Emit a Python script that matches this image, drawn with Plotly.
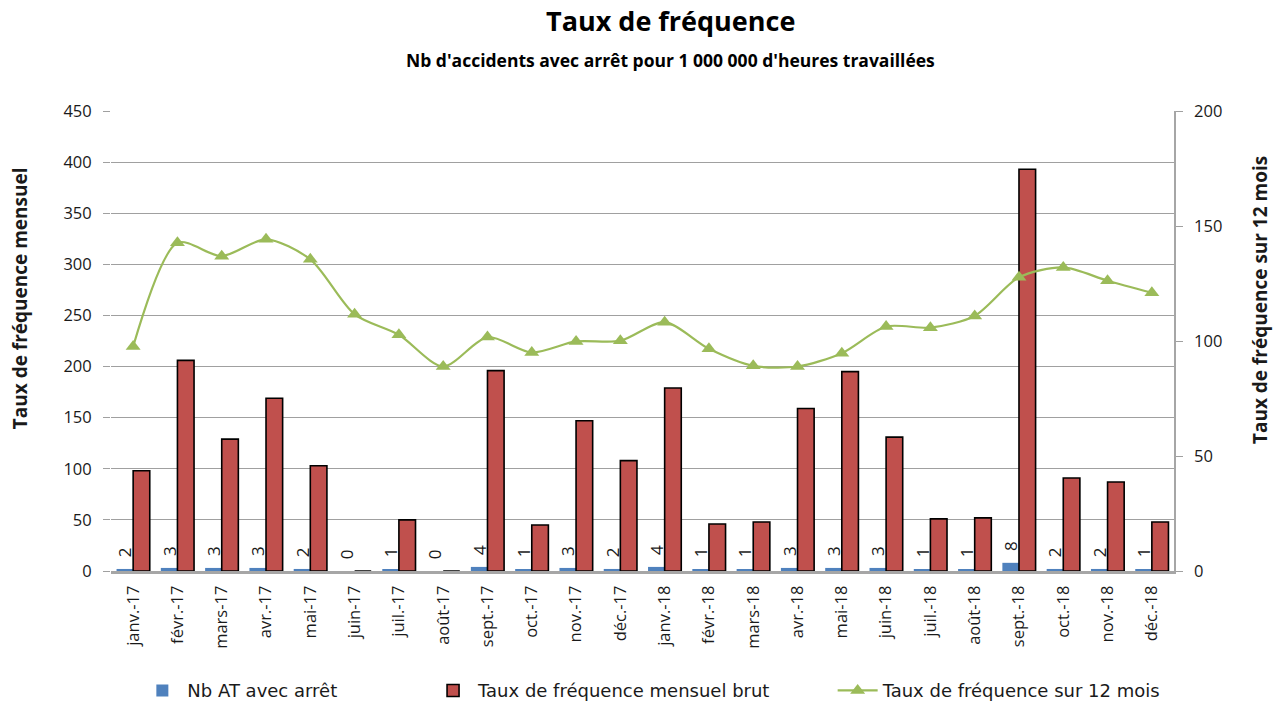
import plotly.graph_objects as go

months = ["janv.-17", "févr.-17", "mars-17", "avr.-17", "mai-17", "juin-17", "juil.-17",
          "août-17", "sept.-17", "oct.-17", "nov.-17", "déc.-17",
          "janv.-18", "févr.-18", "mars-18", "avr.-18", "mai-18", "juin-18", "juil.-18",
          "août-18", "sept.-18", "oct.-18", "nov.-18", "déc.-18"]

nb_at = [2, 3, 3, 3, 2, 0, 1, 0, 4, 1, 3, 2,
         4, 1, 1, 3, 3, 3, 1, 1, 8, 2, 2, 1]

taux_mensuel = [98, 206, 129, 169, 103, 0, 50, 0, 196, 45, 147, 108,
                179, 46, 48, 159, 195, 131, 51, 52, 393, 91, 87, 48]

taux_12_mois = [97.6, 142.7, 136.9, 144.2, 135.5, 111.6, 102.7, 88.9, 101.7, 95.0, 99.8, 100.1,
                108.2, 96.6, 89.2, 88.9, 94.7, 106.3, 105.8, 110.9, 127.7, 132.0, 126.2, 121.0]

FONT = "Open Sans"
WIDE = "DejaVu Sans"
TXT = "#1a1a1a"
GRID = "#a0a0a0"
NBSP = "\u00a0"

fig = go.Figure()

# monthly count of lost-time accidents, labelled above each bar
fig.add_trace(go.Bar(
    x=months, y=nb_at, name="Nb AT avec arrêt" + NBSP * 15,
    marker=dict(color="#4F81BD", line=dict(width=0)),
    text=[NBSP * 2 + str(v) for v in nb_at], textposition="outside", textangle=-90,
    constraintext="none", cliponaxis=False,
    textfont=dict(family=FONT, size=17, color=TXT),
))

fig.add_trace(go.Bar(
    x=months, y=taux_mensuel, name="Taux de fréquence mensuel brut" + NBSP * 10,
    marker=dict(color="#C0504D", line=dict(color="#000000", width=1.6)),
))

# rolling 12-month rate on the secondary axis
fig.add_trace(go.Scatter(
    x=months, y=taux_12_mois, name="Taux de fréquence sur 12 mois",
    yaxis="y2", mode="lines+markers",
    line=dict(color="#9BBB59", width=2.2, shape="spline", smoothing=0.8),
    marker=dict(symbol="triangle-up", size=13, color="#9BBB59"),
))

fig.update_layout(
    width=1278, height=707,
    margin=dict(l=111, r=104, t=111, b=136, autoexpand=False),
    paper_bgcolor="white", plot_bgcolor="white",
    barmode="group", bargap=0.25, bargroupgap=0,
    font=dict(family=FONT, size=16, color=TXT),
    showlegend=True,
    legend=dict(orientation="h", x=0.5088, xanchor="center", yref="container",
                y=0.023, yanchor="middle",
                font=dict(family=WIDE, size=18, color=TXT), itemwidth=40,
                traceorder="normal"),
    xaxis=dict(
        type="category", range=[-0.5, len(months) - 0.5], tickangle=-90, showgrid=False,
        showline=True, linecolor="#a6a6a6", linewidth=3, automargin=False,
        ticks="", ticklabelstandoff=5, tickfont=dict(family=FONT, size=16.5, color=TXT),
    ),
    yaxis=dict(
        range=[0, 450], dtick=50, showgrid=True, gridcolor=GRID, gridwidth=1.3,
        zeroline=False, showline=False, ticks="outside", ticklen=7, tickcolor=GRID,
        ticklabelstandoff=8, automargin=False,
        tickfont=dict(family=FONT, size=16.5, color=TXT),
    ),
    yaxis2=dict(
        range=[0, 200], dtick=50, overlaying="y", side="right", showgrid=False,
        zeroline=False, showline=True, linecolor="#a6a6a6", linewidth=1.5,
        ticks="outside", ticklen=7, tickcolor=GRID, ticklabelstandoff=8, automargin=False,
        tickfont=dict(family=FONT, size=16.5, color=TXT),
    ),
    annotations=[
        dict(text="<b>Taux de fréquence</b>", xref="paper", yref="paper",
             x=0.526, y=1.1957, yanchor="middle", xanchor="center", showarrow=False,
             font=dict(family=FONT, size=27, color="#000000")),
        dict(text="<b>Nb d'accidents avec arrêt pour 1 000 000 d'heures travaillées</b>",
             xref="paper", yref="paper", x=0.526, y=1.111, yanchor="middle",
             xanchor="center", showarrow=False,
             font=dict(family=FONT, size=17.5, color="#000000")),
        # axis titles
        dict(text="<b>Taux de fréquence mensuel</b>", xref="paper", yref="paper",
             x=-0.0856, y=0.593, xanchor="center", yanchor="middle", textangle=-90,
             showarrow=False, font=dict(family=FONT, size=19, color=TXT)),
        dict(text="<b>Taux de fréquence sur 12 mois</b>", xref="paper", yref="paper",
             x=1.0809, y=0.589, xanchor="center", yanchor="middle", textangle=-90,
             showarrow=False, font=dict(family=FONT, size=19, color=TXT)),
    ],
)

fig.write_html("out.html")
